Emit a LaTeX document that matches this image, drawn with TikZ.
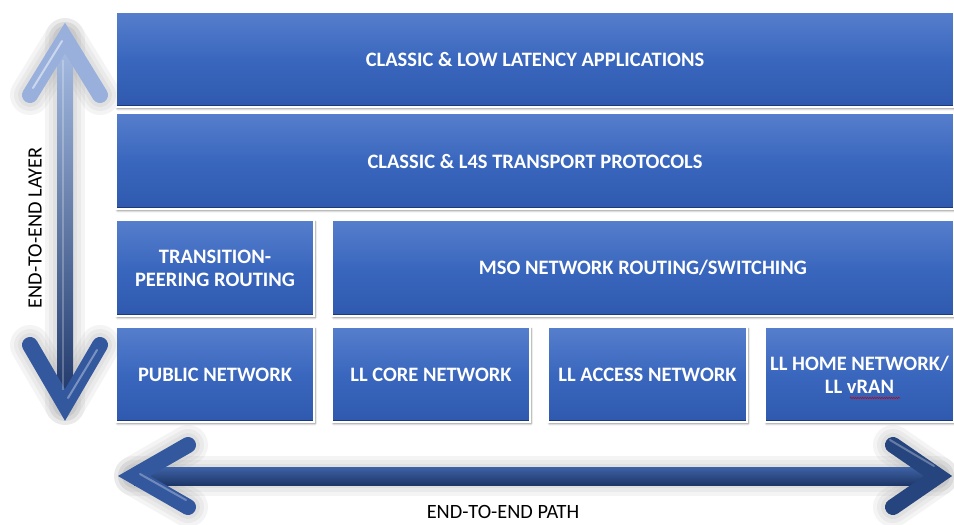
\documentclass[tikz,border=0pt]{standalone}
\usepackage{fontspec}
\setmainfont{Carlito}
\usetikzlibrary{shadows.blur,decorations.pathmorphing}

\definecolor{boxtop}{RGB}{86,126,204}
\definecolor{boxmid}{RGB}{58,103,190}
\definecolor{boxbot}{RGB}{46,89,174}
\definecolor{boxdark}{RGB}{28,58,118}
\definecolor{arrlight}{RGB}{168,190,228}
\definecolor{arrmid}{RGB}{62,98,165}
\definecolor{arrdark}{RGB}{30,55,105}
\definecolor{arrhead}{RGB}{52,88,158}
\definecolor{arrnavy}{RGB}{38,68,125}

\begin{document}
\begin{tikzpicture}[x=1pt,y=-1pt,
  blk/.style={rectangle, inner sep=0pt, outer sep=0pt,
    top color=boxtop, bottom color=boxbot, middle color=boxmid,
    draw=white, line width=1.3pt,
    text=white, align=center,
    font=\bfseries\fontsize{20.5}{23}\selectfont,
    blur shadow={shadow xshift=1.2pt, shadow yshift=-1.8pt, shadow blur steps=6, shadow opacity=45},
    path picture={\draw[boxdark, line width=5pt]
      (path picture bounding box.south west) -- (path picture bounding box.south east);}},
  chev/.style={line width=16pt, line cap=round, line join=miter},
  halo/.style={line width=#1, line cap=round, line join=round, black!60, opacity=0.07},
  lbl/.style={font=\fontsize{20.3}{24}\selectfont, text=black, inner sep=0pt}
]
\useasboundingbox (0,0) rectangle (954,525);

% ---------- boxes ----------
\node[blk, minimum width=838pt, minimum height=95pt] (apps) at (535,59.5) {CLASSIC \& LOW LATENCY APPLICATIONS};
\node[blk, minimum width=838pt, minimum height=96pt] (trans) at (535,161) {CLASSIC \& L4S TRANSPORT PROTOCOLS};
\node[blk, minimum width=198pt, minimum height=96pt] (peer) at (215,268) {TRANSITION-\\PEERING ROUTING};
\node[blk, minimum width=622pt, minimum height=96pt] (mso) at (643,268) {MSO NETWORK ROUTING/SWITCHING};
\node[blk, minimum width=198pt, minimum height=95pt] (pub) at (215,374.5) {PUBLIC NETWORK};
\node[blk, minimum width=198pt, minimum height=95pt] (core) at (431,374.5) {LL CORE NETWORK};
\node[blk, minimum width=199pt, minimum height=95pt] (acc) at (647.5,374.5) {LL ACCESS NETWORK};
\node[blk, minimum width=189pt, minimum height=95pt] (home) at (859.5,374.5) {LL HOME NETWORK/\\LL vRAN};
\coordinate (ulA) at (850,398);
\coordinate (ulB) at (900,398);
\draw[red!80!black, line width=0.5pt, decorate,
  decoration={snake, amplitude=0.7pt, segment length=2.4pt}] (ulA) -- (ulB);

% ---------- vertical arrow ----------
\coordinate (vTopL) at (30,95);
\coordinate (vTop) at (65,38);
\coordinate (vTopR) at (100,95);
\coordinate (vBotL) at (30,345);
\coordinate (vBot) at (65,405);
\coordinate (vBotR) at (100,345);
\begin{scope}[shift={(-9,6)}]
  \foreach \w in {40pt,32pt,24pt} {
    \draw[halo=\w] (vTopL) -- (vTop) -- (vTopR);
    \draw[halo=\w] (vTop) -- (vBot);
    \draw[halo=\w] (vBotL) -- (vBot) -- (vBotR);
  }
\end{scope}
\shade[top color=arrlight, middle color=arrmid, bottom color=arrdark] (57,40) rectangle (73,405);
\draw[chev, arrlight!85!arrmid] (vTopL) -- (vTop) -- (vTopR);
\draw[white, opacity=0.5, line width=2pt, line cap=round] (33,88) -- (62,41);
\draw[chev, arrhead] (vBotL) -- (vBot) -- (vBotR);
\draw[white, opacity=0.35, line width=2pt, line cap=round] (97,350) -- (68,398);
\draw[white, opacity=0.25, line width=2pt] (63,60) -- (63,390);

% ---------- horizontal arrow ----------
\coordinate (hLT) at (188,445);
\coordinate (hL) at (134,476);
\coordinate (hLB) at (188,507);
\coordinate (hRT) at (893,445);
\coordinate (hR) at (938,476);
\coordinate (hRB) at (893,507);
\begin{scope}[shift={(-8,8)}]
  \foreach \w in {40pt,32pt,24pt} {
    \draw[halo=\w] (hLT) -- (hL) -- (hLB);
    \draw[halo=\w] (hL) -- (hR);
    \draw[halo=\w] (hRT) -- (hR) -- (hRB);
  }
\end{scope}
\shade[top color=arrmid, bottom color=arrdark] (134,467) rectangle (938,485);
\draw[chev, arrhead] (hLT) -- (hL) -- (hLB);
\draw[chev, arrnavy] (hRT) -- (hR) -- (hRB);
\draw[white, opacity=0.3, line width=2pt, line cap=round] (186,500) -- (140,474);
\draw[white, opacity=0.3, line width=2pt, line cap=round] (890,440) -- (934,466);

% ---------- labels ----------
\node[lbl, rotate=90] (layerlbl) at (35,228) {END-TO-END LAYER};
\node[lbl] (pathlbl) at (503,512) {END-TO-END PATH};
\end{tikzpicture}
\end{document}
